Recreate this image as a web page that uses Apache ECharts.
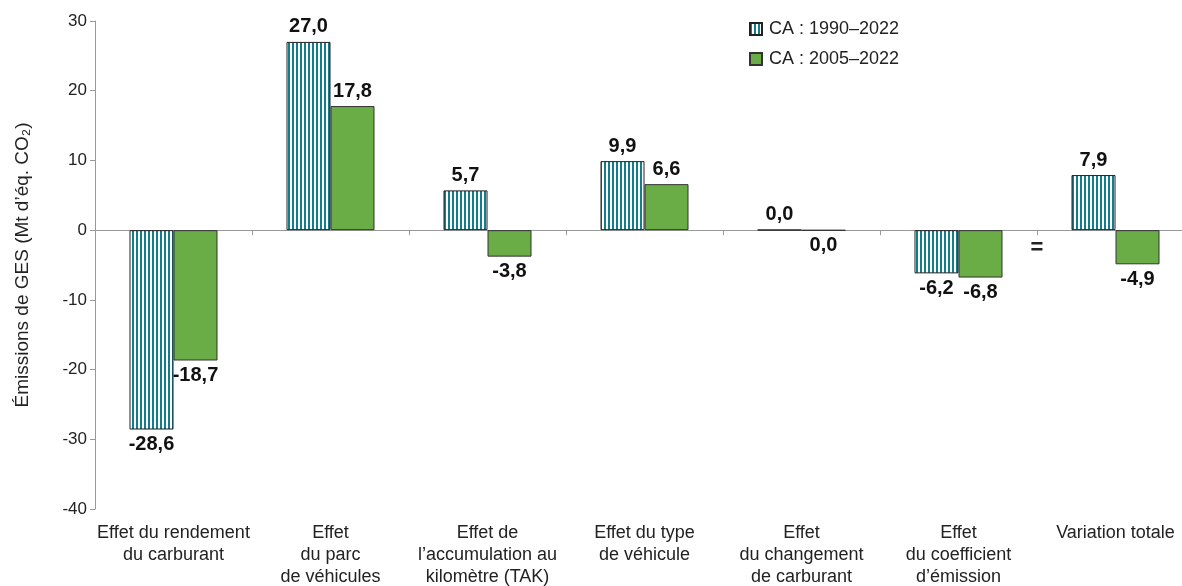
<!DOCTYPE html>
<html>
<head>
<meta charset="utf-8">
<script src="https://cdn.jsdelivr.net/npm/echarts@6/dist/echarts.min.js"></script>
<style>
  html, body { margin: 0; padding: 0; background: #fff; }
  #chart { width: 1182px; height: 586px; }
</style>
</head>
<body>
<div id="chart"></div>
<script>
// categories (axe des x)
const categories = [
  "Effet du rendement\ndu carburant",
  "Effet\ndu parc\nde véhicules",
  "Effet de\nl’accumulation au\nkilomètre (TAK)",
  "Effet du type\nde véhicule",
  "Effet\ndu changement\nde carburant",
  "Effet\ndu coefficient\nd’émission",
  "Variation totale"
];
// CA : 1990–2022
const ca1990 = [-28.6, 27.0, 5.7, 9.9, 0.04, -6.2, 7.9];
// CA : 2005–2022
const ca2005 = [-18.7, 17.8, -3.8, 6.6, -0.04, -6.8, -4.9];

// motif rayé pour la série 1990
const cv = document.createElement("canvas");
cv.width = 4;
cv.height = 4;
const ctx = cv.getContext("2d");
ctx.fillStyle = "#ffffff";
ctx.fillRect(0, 0, 4, 4);
ctx.fillStyle = "#127e8c";
ctx.fillRect(0, 0, 2, 4);

const fmt = (p) => p.value.toFixed(1).replace("-0.0", "0.0").replace(".", ",");
const lbl = (v) => ({
  show: true,
  position: v >= 0 ? "top" : "bottom",
  distance: 5,
  fontSize: 20,
  fontWeight: "bold",
  color: "#111",
  formatter: fmt
});

const chart = echarts.init(document.getElementById("chart"));
chart.setOption({
  animation: false,
  textStyle: { fontFamily: "Liberation Sans, Arial, sans-serif" },
  legend: {
    orient: "vertical",
    left: 744,
    top: 15,
    icon: "rect",
    itemWidth: 12,
    itemHeight: 12,
    itemGap: 12,
    textStyle: { fontSize: 18, color: "#222", padding: [0, 0, 0, 2] },
    data: ["CA : 1990–2022", "CA : 2005–2022"]
  },
  grid: { left: 95, width: 1099, top: 21, bottom: 77, outerBoundsMode: "none" },
  xAxis: [
    {
      type: "category",
      data: categories,
      axisLine: { show: false, onZero: false },
      axisTick: { show: false },
      axisLabel: { interval: 0, fontSize: 18, lineHeight: 22, color: "#222", margin: 13 }
    },
    {
      // ligne du zéro avec les graduations
      type: "category",
      data: categories,
      position: "bottom",
      axisLine: { show: true, onZero: true, lineStyle: { color: "#999" } },
      axisTick: { show: true, length: 5, lineStyle: { color: "#999" } },
      axisLabel: { show: false }
    }
  ],
  yAxis: {
    type: "value",
    min: -40,
    max: 30,
    interval: 10,
    name: "Émissions de GES (Mt d’éq. CO₂)",
    nameLocation: "middle",
    nameGap: 63,
    nameTextStyle: { fontSize: 19, color: "#222" },
    axisLine: { show: true, lineStyle: { color: "#999" } },
    axisTick: { show: true, length: 5, lineStyle: { color: "#999" } },
    axisLabel: { fontSize: 17, color: "#222", margin: 8 },
    splitLine: { show: false }
  },
  series: [
    {
      name: "CA : 1990–2022",
      type: "bar",
      barWidth: 44,
      barGap: "0%",
      itemStyle: { color: { image: cv, repeat: "repeat" }, borderColor: "#222", borderWidth: 1 },
      data: ca1990.map((v) => ({ value: v, label: lbl(v) }))
    },
    {
      name: "CA : 2005–2022",
      type: "bar",
      barWidth: 44,
      itemStyle: { color: "#6aac46", borderColor: "#333", borderWidth: 1 },
      data: ca2005.map((v) => ({ value: v, label: lbl(v) }))
    }
  ]
});

// signe "=" entre les deux dernières catégories
const a = chart.convertToPixel({ xAxisIndex: 0 }, 5);
const b = chart.convertToPixel({ xAxisIndex: 0 }, 6);
const y = chart.convertToPixel({ yAxisIndex: 0 }, -2.6);
chart.setOption({
  graphic: [{
    type: "text",
    x: (a + b) / 2,
    y: y,
    style: { text: "=", fontSize: 22, fontWeight: "bold", fill: "#222", align: "center", verticalAlign: "middle" }
  }]
});
</script>
</body>
</html>
